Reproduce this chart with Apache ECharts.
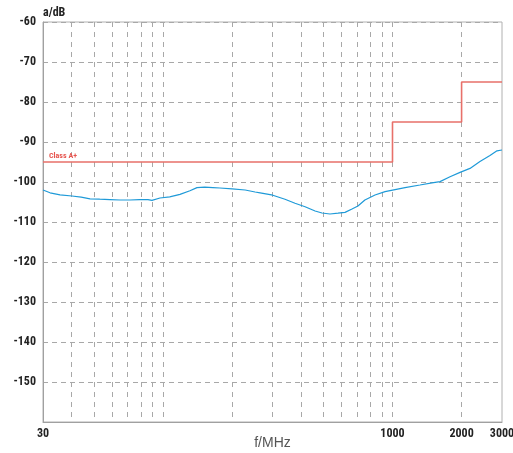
<!DOCTYPE html>
<html>
<head>
<meta charset="utf-8">
<script src="https://cdn.jsdelivr.net/npm/echarts@6/dist/echarts.min.js"></script>
<style>
html,body{margin:0;padding:0;background:#fff;}
#chart{width:513px;height:453px;}
</style>
</head>
<body>
<div id="chart"></div>
<script>
// ---- data ----
const xTickLabels = [30, 1000, 2000, 3000];
const xGridFreqs = [40, 50, 60, 70, 80, 90, 100, 200, 300, 400, 500, 600, 700, 800, 900, 1000, 2000];
const yTickLabels = [-60, -70, -80, -90, -100, -110, -120, -130, -140, -150];

const limitName = 'Class A+';
const limitFreq = [30, 1000, 1000, 2000, 2000, 3000];
const limitLevel = [-95, -95, -85, -85, -75, -75];

const curveFreq = [30,32.2,35.6,40.1,44,48.1,53,58.7,65,71.8,79,86,89.5,97,107,118.6,131,140.6,152,165,177,200,228,252,265,301,340,376,416,460,493,534,579,621,666,707,758,839,928,1026,1134,1317,1486,1611,1781,1969,2176,2405,2659,2853,3000];
const curveLevel = [-102,-102.7,-103.2,-103.5,-103.8,-104.2,-104.3,-104.4,-104.5,-104.5,-104.4,-104.4,-104.6,-104,-103.7,-103.1,-102.2,-101.4,-101.3,-101.4,-101.5,-101.7,-102,-102.5,-102.7,-103.3,-104.3,-105.3,-106.2,-107.25,-107.75,-108,-107.8,-107.6,-106.75,-106,-104.5,-103.25,-102.4,-101.9,-101.4,-100.75,-100.2,-99.9,-98.7,-97.6,-96.6,-94.9,-93.4,-92.2,-92];

// ---- build ----
const lg = Math.log10;
const limitData = limitFreq.map((f, i) => [lg(f), limitLevel[i]]);
const curveData = curveFreq.map((f, i) => [lg(f), curveLevel[i]]);

const labelFont = "'Liberation Sans Narrow', 'Roboto Condensed', 'DejaVu Sans Condensed', sans-serif";
const gridColor = '#a8a8a8';

const chart = echarts.init(document.getElementById('chart'), null, {renderer: 'canvas'});
chart.setOption({
  animation: false,
  backgroundColor: '#fff',
  grid: {left: 43, right: 11, top: 22, bottom: 31, show: true, borderColor: '#b0b0b0', borderWidth: 1, containLabel: false, outerBoundsMode: 'none'},
  xAxis: {
    type: 'value',
    min: lg(30), max: lg(3000),
    name: 'f/MHz',
    nameLocation: 'middle',
    nameGap: 14,
    nameMoveOverlap: false,
    nameTextStyle: {fontFamily: "'Liberation Sans', Arial, sans-serif", fontSize: 14, color: '#555'},
    axisLine: {show: true, lineStyle: {color: '#a0a0a0', width: 1}},
    axisTick: {show: false, customValues: xGridFreqs.map(lg)},
    axisLabel: {
      customValues: xTickLabels.map(lg),
      formatter: v => String(Math.round(Math.pow(10, v))),
      fontFamily: labelFont, fontWeight: 'bold', fontSize: 12, color: '#222', margin: 6
    },
    splitLine: {show: true, lineStyle: {color: gridColor, type: [5, 5], width: 1}}
  },
  yAxis: {
    type: 'value',
    min: -160, max: -60, interval: 10,
    name: 'a/dB',
    nameLocation: 'end',
    nameGap: 9,
    nameTextStyle: {fontFamily: labelFont, fontWeight: 'bold', fontSize: 12, color: '#222', align: 'left', verticalAlign: 'middle'},
    axisLine: {show: true, lineStyle: {color: '#a0a0a0', width: 1}},
    axisTick: {show: false},
    axisLabel: {
      formatter: v => (yTickLabels.indexOf(v) >= 0 ? String(v) : ''),
      fontFamily: labelFont, fontWeight: 'bold', fontSize: 12, color: '#222', margin: 7
    },
    splitLine: {show: true, lineStyle: {color: gridColor, type: [5, 4], width: 1}}
  },
  series: [
    {
      type: 'line',
      name: limitName,
      data: limitData,
      showSymbol: false,
      symbol: 'none',
      lineStyle: {color: '#e8706a', width: 1.6},
      z: 3,
      markPoint: {
        symbol: 'rect',
        symbolSize: [0, 0],
        itemStyle: {color: 'transparent'},
        data: [{coord: [lg(30), -95]}],
        label: {
          show: true,
          formatter: limitName,
          position: [6, -6.5],
          align: 'left',
          verticalAlign: 'middle',
          fontFamily: labelFont,
          fontWeight: 'bold',
          fontSize: 8,
          color: '#e6554f'
        }
      }
    },
    {
      type: 'line',
      data: curveData,
      showSymbol: false,
      symbol: 'none',
      lineStyle: {color: '#1f9ad8', width: 1.2},
      z: 4
    }
  ]
});
</script>
</body>
</html>
